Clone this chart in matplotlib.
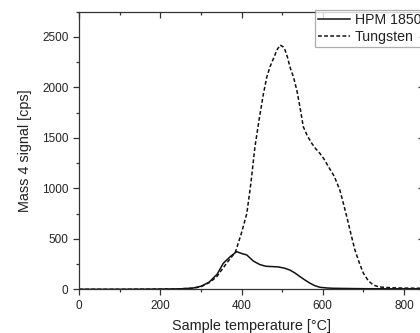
import numpy as np
import matplotlib
matplotlib.use("Agg")
import matplotlib.pyplot as plt
from matplotlib.ticker import MultipleLocator

plt.rcParams['font.family'] = ['Liberation Sans', 'DejaVu Sans']

# HPM 1850 (durchgezogen)
t_hpm = [0, 100, 200, 250, 280, 300, 320, 340, 355, 372, 388, 400, 413, 429, 445,
         460, 475, 490, 505, 519, 532, 544, 556, 569, 581, 593, 610, 626, 660, 700,
         750, 800, 850]
v_hpm = [0, 0, 2, 5, 12, 30, 70, 150, 257, 323, 373, 355, 340, 280, 245,
         228, 225, 222, 210, 191, 160, 125, 92, 59, 35, 20, 13, 10, 8, 6,
         5, 5, 5]

# Tungsten (gestrichelt)
t_w = [0, 100, 200, 250, 280, 300, 322, 339, 363, 385, 400, 413, 423, 433, 444,
       454, 462, 470, 480, 487, 495, 503, 507, 513, 519, 528, 536, 544, 552, 562,
       573, 583, 593, 603, 614, 628, 642, 650, 659, 669, 679, 690, 700, 712, 724,
       737, 749, 770, 800, 850]
v_w = [0, 0, 2, 5, 10, 25, 70, 125, 257, 370, 560, 752, 1050, 1412, 1700,
       1940, 2100, 2204, 2300, 2370, 2420, 2400, 2370, 2300, 2204, 2100, 1973, 1800, 1610, 1520,
       1445, 1390, 1346, 1290, 1214, 1120, 983, 860, 719, 550, 390, 260, 158, 85, 43,
       25, 20, 15, 12, 10]

fig = plt.figure(figsize=(4.2, 3.33), dpi=100)
ax = fig.add_axes([79 / 420, 1 - 289.3 / 333, (424.4 - 79) / 420, (289.3 - 11.7) / 333])

ax.plot(t_hpm, v_hpm, color='#111111', linewidth=1.1, label='HPM 1850')
ax.plot(t_w, v_w, color='#111111', linewidth=1.1, linestyle=(0, (2.5, 1.5)), label='Tungsten')

ax.set_xlim(0, 850)
ax.set_ylim(0, 2750)
ax.xaxis.set_major_locator(MultipleLocator(200))
ax.xaxis.set_minor_locator(MultipleLocator(100))
ax.yaxis.set_major_locator(MultipleLocator(500))
ax.yaxis.set_minor_locator(MultipleLocator(250))

ax.tick_params(which='both', direction='out', labelsize=8.5, color='#333333',
               labelcolor='#222222', width=0.9)
ax.tick_params(which='major', length=4)
ax.tick_params(which='minor', length=2.5)
ax.tick_params(which='both', top=True, right=True)
for spine in ax.spines.values():
    spine.set_color('#333333')
    spine.set_linewidth(0.9)

# Ticks oben und rechts zeigen nach innen
for tick in ax.xaxis.get_major_ticks() + ax.xaxis.get_minor_ticks():
    tick.tick2line.set_marker(matplotlib.markers.TICKDOWN)
for tick in ax.yaxis.get_major_ticks() + ax.yaxis.get_minor_ticks():
    tick.tick2line.set_marker(matplotlib.markers.TICKLEFT)

ax.set_xlabel('Sample temperature [°C]', fontsize=10.4, labelpad=5, color='#222222')
ax.set_ylabel('Mass 4 signal [cps]', fontsize=10.4, labelpad=7, color='#222222')

leg = ax.legend(loc='upper left', bbox_to_anchor=(315 / 420, 1 - 10 / 333),
                bbox_transform=fig.transFigure, fontsize=10.2, frameon=True,
                fancybox=False, borderpad=0.2, handletextpad=0.35,
                labelspacing=0.25, handlelength=2.25, borderaxespad=0)
leg.get_frame().set_edgecolor('#999999')
leg.get_frame().set_linewidth(0.9)
for txt in leg.get_texts():
    txt.set_color('#222222')

plt.savefig('out.png', dpi=100)
